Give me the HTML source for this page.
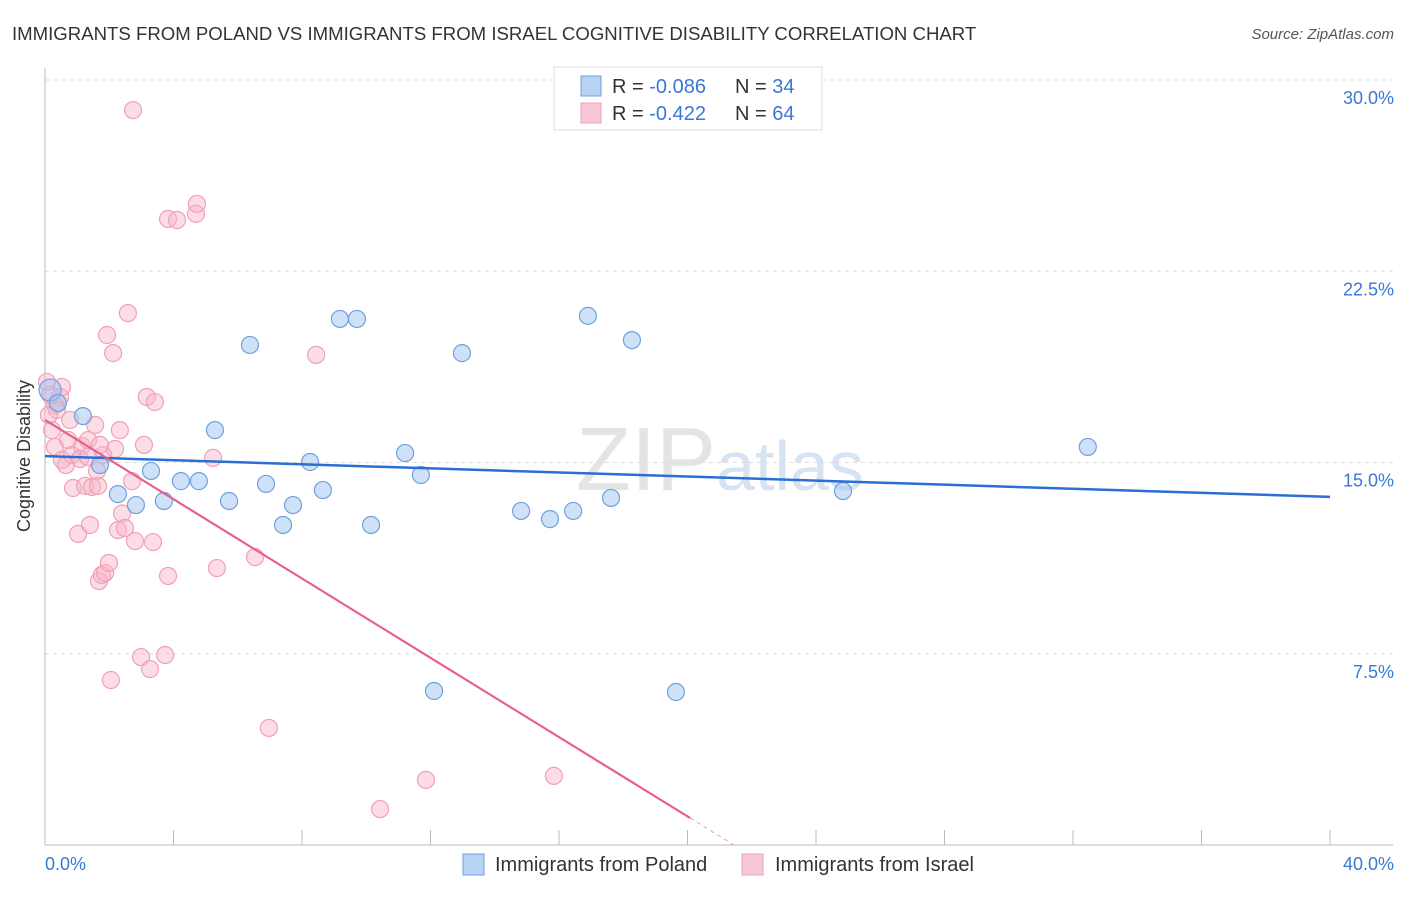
<!DOCTYPE html>
<html><head><meta charset="utf-8"><style>
body{margin:0;background:#fff;font-family:"Liberation Sans",sans-serif}
svg text{font-family:"Liberation Sans",sans-serif}
</style></head><body>
<svg width="1406" height="892" viewBox="0 0 1406 892" xmlns="http://www.w3.org/2000/svg">
<text x="12" y="40" font-size="18.6" fill="#333">IMMIGRANTS FROM POLAND VS IMMIGRANTS FROM ISRAEL COGNITIVE DISABILITY CORRELATION CHART</text>
<text x="1394" y="39" font-size="15" fill="#555" font-style="italic" text-anchor="end">Source: ZipAtlas.com</text>
<text x="720" y="490" font-size="90" fill="#e4e4e4" text-anchor="middle" font-family="Liberation Serif">ZIP<tspan fill="#d6e3f3" font-family="Liberation Sans" font-size="70">atlas</tspan></text>
<g id="grid"></g><g id="axes"></g><g id="dots"></g><g id="lines"></g>
<text x="30" y="456" font-size="18" fill="#333" text-anchor="middle" transform="rotate(-90 30 456)">Cognitive Disability</text>
<text x="45" y="870" font-size="18" fill="#3a78d8">0.0%</text>
<text x="1394" y="870" font-size="18" fill="#3a78d8" text-anchor="end">40.0%</text>
<g>
<rect x="554" y="67" width="268" height="63" fill="#fff" stroke="#ddd"/>
<rect x="581" y="76" width="20" height="20" fill="#b8d2f4" stroke="#6fa0e0"/>
<text x="612" y="93" font-size="20" fill="#333">R = <tspan fill="#3a78d8">-0.086</tspan></text>
<text x="735" y="93" font-size="20" fill="#333">N = <tspan fill="#3a78d8">34</tspan></text>
<rect x="581" y="103" width="20" height="20" fill="#f9c8d6" stroke="#f0a0b8"/>
<text x="612" y="120" font-size="20" fill="#333">R = <tspan fill="#3a78d8">-0.422</tspan></text>
<text x="735" y="120" font-size="20" fill="#333">N = <tspan fill="#3a78d8">64</tspan></text>
</g>
<g>
<rect x="463" y="854" width="21" height="21" fill="#b8d2f4" stroke="#6fa0e0"/>
<text x="495" y="871" font-size="20" fill="#333">Immigrants from Poland</text>
<rect x="742" y="854" width="21" height="21" fill="#f9c8d6" stroke="#f0a0b8"/>
<text x="775" y="871" font-size="20" fill="#333">Immigrants from Israel</text>
</g>
</svg>
<script>
const yTicks=[7.5,15,22.5,30];
const yTickLabels=["7.5%","15.0%","22.5%","30.0%"];
const polandX=[0.16,0.4,1.18,1.71,2.27,2.83,3.3,3.7,4.23,4.79,5.29,5.73,6.38,6.88,7.41,7.72,8.25,8.65,9.18,9.71,10.15,11.21,11.7,12.11,12.98,14.82,15.72,16.44,16.9,17.62,18.27,19.64,24.84,32.46];
const polandY=[17.84,17.33,16.82,14.9,13.76,13.33,14.67,13.49,14.27,14.27,16.27,13.49,19.61,14.16,12.55,13.33,15.02,13.92,20.63,20.63,12.55,15.37,14.51,6.04,19.29,13.1,12.78,13.1,20.75,13.61,19.8,6.0,13.88,15.61];
const israelX=[0.06,0.16,0.31,0.47,0.22,0.31,0.53,0.65,0.72,0.84,0.78,0.87,1.03,1.15,1.25,1.34,1.4,1.46,1.56,1.62,1.65,1.68,1.77,1.81,1.87,1.93,1.99,2.05,2.12,2.18,2.27,2.33,2.4,2.49,2.58,2.71,2.74,2.80,2.99,3.08,3.17,3.27,3.36,3.42,3.74,3.83,3.83,4.11,4.7,4.73,5.23,5.35,6.54,6.97,8.44,10.43,11.86,15.84,0.53,1.09,1.34,0.37,0.12,1.71];
const israelY=[18.16,17.65,17.25,17.57,16.27,15.61,15.1,14.9,15.88,15.29,16.67,14.0,12.2,15.65,14.08,15.88,12.55,14.04,16.47,14.67,14.08,10.35,10.59,15.29,10.67,20.0,11.06,6.47,19.29,15.53,12.35,16.27,13.0,12.43,20.86,14.27,28.82,11.92,7.37,15.69,17.57,6.9,11.88,17.37,7.45,10.55,24.55,24.51,24.75,25.14,15.18,10.86,11.29,4.59,19.22,1.41,2.55,2.71,17.96,15.14,15.22,17.06,16.86,15.69];
const trendStart=[15.25,16.67];
const trendEnd=[13.65,1.06];
const trendEndX=[40,20.08];
const X=v=>45+v*32.125, Y=v=>845-v*25.5;
const NS="http://www.w3.org/2000/svg";
function mk(t,a,p){const e=document.createElementNS(NS,t);for(const k in a)e.setAttribute(k,a[k]);document.getElementById(p).appendChild(e);return e;}
yTicks.forEach((t,i)=>{
 const l=mk('line',{x1:45,x2:1393,y1:Y(t),y2:Y(t),stroke:'#ddd','stroke-dasharray':'4,4'},'grid');
 
 
 const tx=mk('text',{x:1394,y:Y(t)+24,'font-size':18,fill:'#3a78d8','text-anchor':'end'},'grid');
 tx.textContent=yTickLabels[i];
 
 
});
const ax=mk('line',{x1:45,x2:45,y1:68,y2:845,stroke:'#bbb'},'axes');


const bx=mk('line',{x1:45,x2:1393,y1:845,y2:845,stroke:'#bbb'},'axes');


for(let i=1;i<=10;i++){const t=mk('line',{x1:X(i*4),x2:X(i*4),y1:830,y2:845,stroke:'#bbb'},'axes');
 
 }
function dots(xs,ys,f,s,n){xs.forEach((x,i)=>{const c=mk('circle',{cx:X(x),cy:Y(ys[i]),r:i==0&&n=='poland-point'?11:8.5,fill:f,stroke:s,'stroke-width':1.2},'dots');
 
 });}
dots(israelX,israelY,'rgba(248,180,200,0.45)','#f0a0b8','israel-point');
dots(polandX,polandY,'rgba(160,196,240,0.5)','#6fa0e0','poland-point');
const bl=mk('line',{x1:X(0),y1:Y(trendStart[0]),x2:X(trendEndX[0]),y2:Y(trendEnd[0]),stroke:'#2a6fd6','stroke-width':2.5},'lines');


const pl=mk('line',{x1:X(0),y1:Y(trendStart[1]),x2:X(trendEndX[1]),y2:Y(trendEnd[1]),stroke:'#e8608a','stroke-width':2.2},'lines');


const sl=(trendEnd[1]-trendStart[1])/trendEndX[1];const xe=-trendStart[1]/sl;
const pd=mk('line',{x1:X(trendEndX[1]),y1:Y(trendEnd[1]),x2:X(xe),y2:Y(0),stroke:'#e8a0b4','stroke-width':1,'stroke-dasharray':'4,4'},'lines');


</script>
</body></html>
